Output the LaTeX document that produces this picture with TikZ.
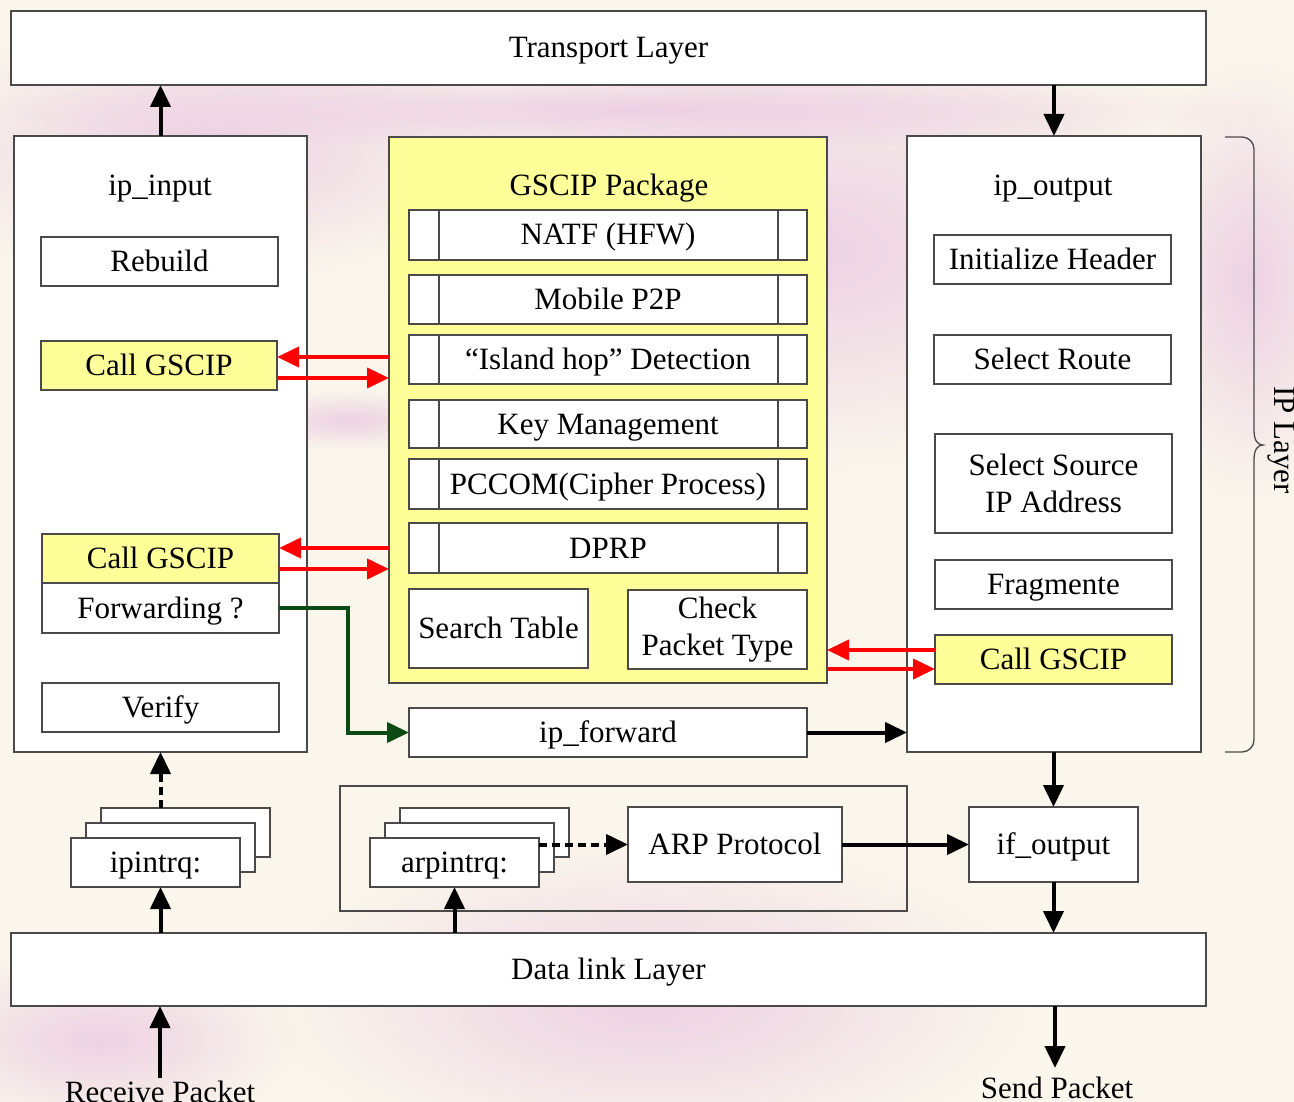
\documentclass[tikz,border=0pt]{standalone}
\usepackage{fontspec}
\setmainfont{Liberation Serif}
\usetikzlibrary{arrows.meta,calc,fadings}
\definecolor{bgcream}{HTML}{FAF6EC}
\definecolor{bgpink}{HTML}{EBCBE2}
\definecolor{boxgray}{HTML}{4A4A4A}
\definecolor{pkgyellow}{HTML}{FFFF99}
\definecolor{arrred}{HTML}{FF0000}
\definecolor{arrgreen}{HTML}{0B4A12}
\tikzfading[name=softblob, inner color=transparent!15, outer color=transparent!100]
\begin{document}
\begin{tikzpicture}[x=1pt,y=-1pt,
  font=\fontsize{31}{37.5}\selectfont,
  bx/.style={draw=boxgray, line width=1.3pt, fill=white, inner sep=0pt, outer sep=0pt, align=center},
  box/.style={bx, text height=20pt, text depth=0pt},
  ybox/.style={box, fill=pkgyellow},
  wh/.style 2 args={minimum width=#1pt, minimum height=#2pt},
  lbl/.style={inner sep=0pt, align=center},
  sl/.style={text height=20pt, text depth=0pt},
  blk/.style={line width=4pt, draw=black, -{Triangle[length=22pt,width=20pt]}},
  blkdash/.style={blk, dash pattern=on 8pt off 5pt},
  redarr/.style={line width=4pt, draw=arrred, -{Triangle[length=22pt,width=20pt]}},
  grnarr/.style={line width=4pt, draw=arrgreen, -{Triangle[length=22pt,width=20pt]}},
  divider/.style={draw=boxgray, line width=1.3pt}
]
% background
\fill[bgcream] (0,0) rectangle (1294,1102);
\useasboundingbox (0,0) rectangle (1294,1102);
\begin{scope}
\clip (0,0) rectangle (1294,1102);
\fill[bgpink, path fading=softblob] (200,150) ellipse (320pt and 130pt);
\fill[bgpink, path fading=softblob] (800,250) ellipse (420pt and 220pt);
\fill[bgpink, path fading=softblob] (1250,280) ellipse (120pt and 220pt);
\fill[bgpink, path fading=softblob] (650,1000) ellipse (380pt and 160pt);
\fill[bgpink, path fading=softblob] (100,1040) ellipse (200pt and 90pt);
\fill[bgpink, path fading=softblob] (350,420) ellipse (120pt and 30pt);
\fill[bgpink, path fading=softblob] (640,110) ellipse (640pt and 40pt);
\end{scope}

% layers
\node[box, wh={1195}{74}] (transport) at (608.5,48) {Transport Layer};
\node[box, wh={1195}{73}] (datalink) at (608.5,969.5) {Data link Layer};

% main columns
\node[box, wh={293}{616}] (ipinput) at (160.5,444) {};
\node[ybox, wh={438}{546}] (gscip) at (608,410) {};
\node[box, wh={294}{616}] (ipoutput) at (1054,444) {};

\node[lbl, sl] (ipinputlbl) at (160,186) {ip\_input};
\node[lbl, sl] (gsciplbl) at (609,186) {GSCIP Package};
\node[lbl, sl] (ipoutputlbl) at (1053,186) {ip\_output};

% ip_input contents
\node[box, wh={237}{49}] (rebuild) at (159.5,261.5) {Rebuild};
\node[ybox, wh={236}{49}] (call1) at (159,365.5) {Call GSCIP};
\node[ybox, wh={237}{49}] (call2) at (160.5,558.5) {Call GSCIP};
\node[box, wh={237}{50}] (fwd) at (160.5,608) {Forwarding ?};
\node[box, wh={237}{49}] (verify) at (160.5,707.5) {Verify};

% GSCIP package rows
\foreach \nm/\yy/\hh/\txt in {natf/235/50/{NATF (HFW)}, mobile/299.5/49/{Mobile P2P}, island/359.5/49/{``Island hop'' Detection}, keym/424/48/{Key Management}, pccom/484/50/{PCCOM(Cipher Process)}, dprp/548/50/{DPRP}} {
  \node[box, wh={398}{\hh}] (\nm) at (608,\yy) {\txt};
  \draw[divider] ([xshift=30pt]\nm.north west) -- ([xshift=30pt]\nm.south west);
  \draw[divider] ([xshift=-29pt]\nm.north east) -- ([xshift=-29pt]\nm.south east);
}
\node[box, wh={179}{79}] (search) at (498.5,628.5) {Search Table};
\node[bx, wh={179}{79}] (check) at (717.5,629.5) {Check\\Packet Type};

% ip_output contents
\node[box, wh={237}{49}] (init) at (1052.5,259.5) {Initialize Header};
\node[box, wh={237}{49}] (route) at (1052.5,359.5) {Select Route};
\node[bx, wh={237}{99}] (source) at (1053.5,483.5) {Select Source\\IP Address};
\node[box, wh={237}{49}] (frag) at (1053.5,584.5) {Fragmente};
\node[ybox, wh={237}{49}] (call3) at (1053.5,659.5) {Call GSCIP};

% ip_forward
\node[box, wh={398}{49}] (ipfwd) at (608,732.5) {ip\_forward};

% lower part
\node[draw=boxgray, line width=1.3pt, inner sep=0pt, outer sep=0pt, wh={567}{125}] (arpgroup) at (623.5,848.5) {};
\node[box, wh={214}{75}] (arp) at (735,844.5) {ARP Protocol};
\node[box, wh={169}{75}] (ifout) at (1053.5,844.5) {if\_output};

\node[box, wh={169}{49}] (ipback) at (185.5,832.5) {};
\node[box, wh={169}{49}] (ipmid) at (170.5,847.5) {};
\node[box, wh={169}{49}] (ipfront) at (155.5,862.5) {ipintrq:};
\node[box, wh={169}{49}] (arpback) at (484.5,832.5) {};
\node[box, wh={169}{49}] (arpmid) at (469.5,847.5) {};
\node[box, wh={169}{49}] (arpfront) at (454.5,862.5) {arpintrq:};

% brace + IP Layer
\draw[draw=boxgray, line width=1.3pt] (1225,137) -- (1242,137) arc[start angle=90, end angle=0, radius=12pt] -- (1254,430) .. controls (1254,441) and (1258,445) .. (1263,445) .. controls (1258,445) and (1254,449) .. (1254,460) -- (1254,740) arc[start angle=0, end angle=-90, radius=12pt] -- (1225,752);
\node[lbl, rotate=-90] (iplayer) at (1281,440) {IP Layer};

% black arrows
\draw[blk] (ipinput.north) -- (ipinput.north |- transport.south);
\draw[blk] (transport.south -| ipoutput.north) -- (ipoutput.north);
\draw[blk] (ipoutput.south -| ifout.north) -- (ifout.north);
\draw[blk] (ifout.south) -- (ifout.south |- datalink.north);
\draw[blk] (ipfwd.east) -- (ipfwd.east -| ipoutput.west);
\draw[blk] (arp.east) -- (ifout.west);
\draw[blkdash] (arpfront.east |- arp.west) -- (arp.west);
\draw[blkdash] (ipinput.south |- ipback.north) -- (ipinput.south);
\draw[blk] (ipinput.south |- datalink.north) -- (ipinput.south |- ipfront.south);
\draw[blk] (arpfront.south |- datalink.north) -- (arpfront.south);

\coordinate (recv) at (160,1078);
\node[lbl, anchor=base] (recvlbl) at (160,1102) {Receive Packet};
\draw[blk] (recv) -- (recv |- datalink.south);
\coordinate (send) at (1055,1068);
\node[lbl, anchor=base] (sendlbl) at (1057,1098) {Send Packet};
\draw[blk] (send |- datalink.south) -- (send);

% red arrows
\path (call1.east) ++(0,-8.5) coordinate (c1a) ++(0,21) coordinate (c1b);
\draw[redarr] (c1a -| gscip.west) -- (c1a);
\draw[redarr] (c1b) -- (c1b -| gscip.west);
\path (call2.east) ++(0,-10.5) coordinate (c2a) ++(0,21) coordinate (c2b);
\draw[redarr] (c2a -| gscip.west) -- (c2a);
\draw[redarr] (c2b) -- (c2b -| gscip.west);
\path (call3.west) ++(0,-9.5) coordinate (c3a) ++(0,19) coordinate (c3b);
\draw[redarr] (c3a) -- (c3a -| gscip.east);
\draw[redarr] (c3b -| gscip.east) -- (c3b);

% green arrow
\draw[grnarr] (fwd.east) -- ++(69,0) |- (ipfwd.west);
\end{tikzpicture}
\end{document}
